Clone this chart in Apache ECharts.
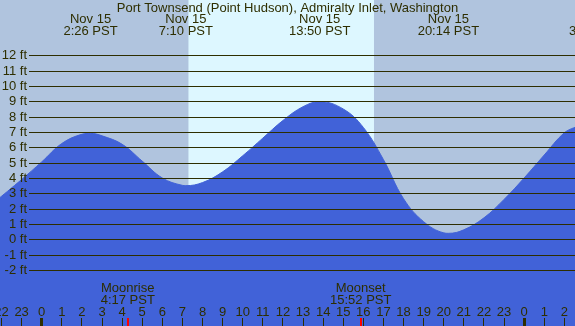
<!DOCTYPE html>
<html>
<head>
<meta charset="utf-8">
<script src="https://cdn.jsdelivr.net/npm/echarts@6/dist/echarts.min.js"></script>
<style>
  html, body { margin: 0; padding: 0; }
  #chart { width: 575px; height: 326px; }
</style>
</head>
<body>
<div id="chart"></div>
<script>
// tide heights (ft), hours from midnight Nov 15
const tideHours = [-2.1, -1, 0, 1, 2, 2.43, 3, 4, 5, 6, 7, 7.17, 8, 9, 10, 11, 12, 13, 13.83, 15, 16, 17, 18, 19, 20, 20.23, 21, 22, 23, 24, 25, 26, 26.6];
const tideFeet = [2.7, 3.9, 5.05, 6.25, 6.85, 6.91, 6.75, 6.2, 5.1, 4.0, 3.52, 3.5, 3.7, 4.4, 5.45, 6.6, 7.75, 8.65, 8.98, 8.5, 7.3, 5.2, 2.65, 1.15, 0.42, 0.39, 0.62, 1.4, 2.6, 4.0, 5.5, 6.95, 7.33];

const extremeHours = [2.43, 7.17, 13.83, 20.23, 27.58];
const extremeDates = ["Nov 15", "Nov 15", "Nov 15", "Nov 15", "Nov 16"];
const extremeTimes = ["2:26 PST", "7:10 PST", "13:50 PST", "20:14 PST", "3:35 PST"];

const moonHours = [4.28, 15.87];
const moonNames = ["Moonrise", "Moonset"];
const moonTimes = ["4:17 PST", "15:52 PST"];

const sunHours = [7.3, 16.53];
const midnightHours = [0, 24];

const ftTicks = [-2, -1, 0, 1, 2, 3, 4, 5, 6, 7, 8, 9, 10, 11, 12];
const hourTicks = [-2, -1, 0, 1, 2, 3, 4, 5, 6, 7, 8, 9, 10, 11, 12, 13, 14, 15, 16, 17, 18, 19, 20, 21, 22, 23, 24, 25, 26];

const title = "Port Townsend (Point Hudson), Admiralty Inlet, Washington";

const FONT = "'Liberation Sans', Arial, sans-serif";
const INK = "#2e2e00";
const NIGHT = "#b0c4de";
const DAY = "#ddf7ff";
const WATER = "#4162d8";

const chart = echarts.init(document.getElementById("chart"));

chart.setOption({
  animation: false,
  backgroundColor: NIGHT,
  grid: { left: 0, right: 0, top: 0, bottom: 0, containLabel: false, outerBoundsMode: "none" },
  xAxis: {
    type: "value",
    min: -2.075,
    max: 26.53,
    axisLine: { show: false },
    splitLine: { show: false },
    axisTick: { show: false },
    axisLabel: { show: false },
  },
  yAxis: {
    type: "value",
    min: -5.655,
    max: 15.61,
    axisLine: { show: false },
    splitLine: { show: false },
    axisTick: { show: false },
    axisLabel: { show: false },
  },
  series: [
    {
      type: "line",
      data: tideHours.map((h, i) => [h, tideFeet[i]]),
      smooth: 0.4,
      symbol: "none",
      lineStyle: { color: WATER, width: 1 },
      areaStyle: { color: WATER, opacity: 1, origin: "start" },
      z: 2,
    },
  ],
});

function px(h) {
  return chart.convertToPixel({ xAxisIndex: 0 }, h);
}
function py(v) {
  return chart.convertToPixel({ yAxisIndex: 0 }, v);
}

function text(x, y, str, align, z) {
  return {
    type: "text",
    x: x,
    y: y,
    z: z || 10,
    silent: true,
    style: {
      text: str,
      fill: INK,
      font: "13px " + FONT,
      align: align || "center",
      verticalAlign: "middle",
    },
  };
}

function tick(h, w, color) {
  return {
    type: "rect",
    z: 6,
    silent: true,
    shape: { x: Math.round(px(h) - w / 2), y: 318, width: w, height: 8 },
    style: { fill: color },
  };
}

const elements = [];

// daylight band
elements.push({
  type: "rect",
  z: 1,
  silent: true,
  shape: { x: px(sunHours[0]), y: 0, width: px(sunHours[1]) - px(sunHours[0]), height: 326 },
  style: { fill: DAY },
});

// horizontal ft lines + labels
ftTicks.forEach((v) => {
  const y = Math.round(py(v)) + 0.5;
  elements.push({
    type: "line",
    z: 5,
    silent: true,
    shape: { x1: 29, y1: y, x2: 575, y2: y },
    style: { stroke: INK, lineWidth: 1 },
  });
  elements.push(text(27, y, v + " ft", "right"));
});

// tide extremes along the top
elements.push(text(287.5, 8, title));
extremeHours.forEach((h, i) => {
  elements.push(text(px(h), 19.5, extremeDates[i]));
  elements.push(text(px(h), 31.5, extremeTimes[i]));
});

// hour labels and ticks along the bottom
hourTicks.forEach((h) => {
  elements.push(text(px(h), 312, String(((h % 24) + 24) % 24)));
  elements.push(tick(h, 1, INK));
});

// midnight ticks
midnightHours.forEach((h) => {
  elements.push(tick(h, 3, INK));
});

// moon rise / set
moonHours.forEach((h, i) => {
  elements.push(text(px(h), 288, moonNames[i]));
  elements.push(text(px(h), 300, moonTimes[i]));
  elements.push(tick(h, 2, "#ff0000"));
});

chart.setOption({ graphic: elements });
</script>
</body>
</html>
